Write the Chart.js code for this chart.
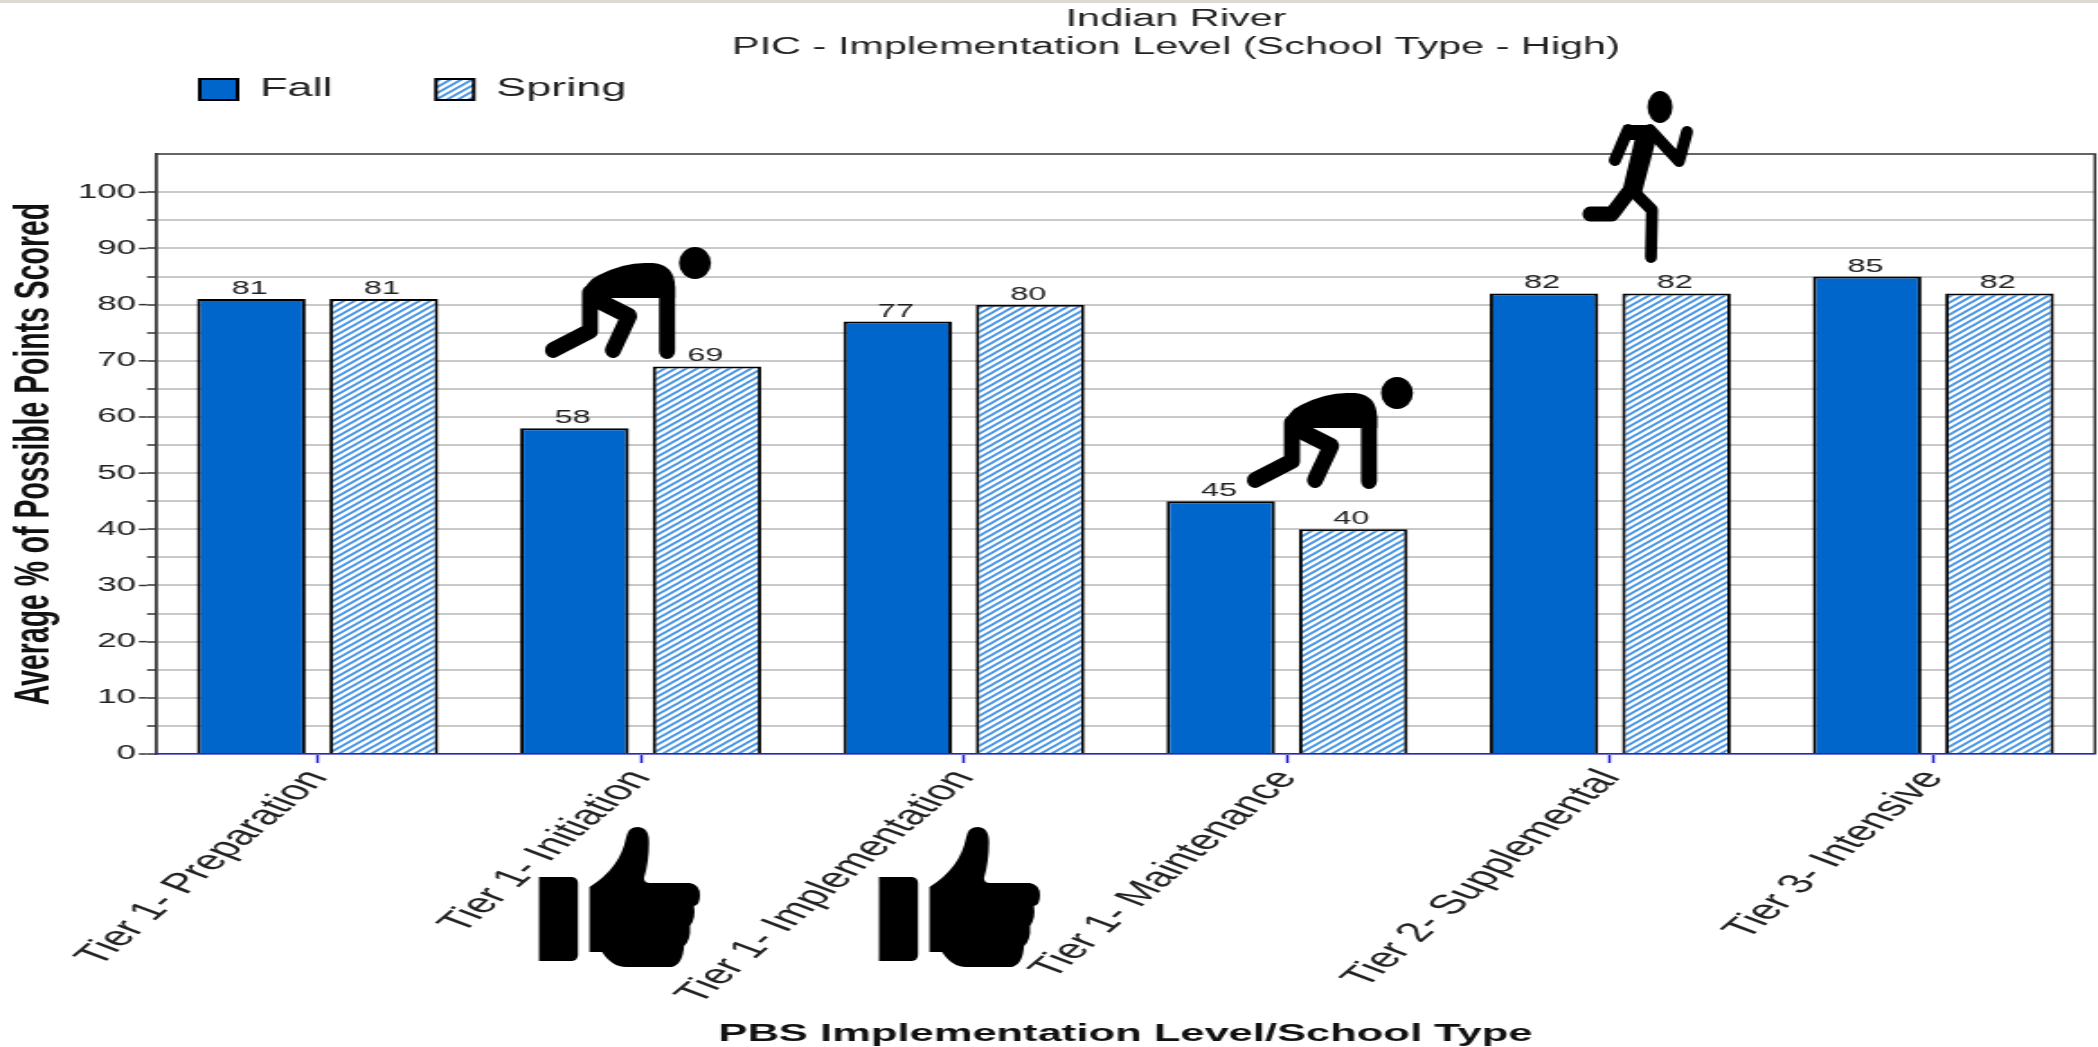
<!DOCTYPE html>
<html>
<head>
<meta charset="utf-8">
<style>
html,body{margin:0;padding:0;background:#fff;overflow:hidden;width:2098px;height:1047px}
#strip{position:absolute;left:0;top:0;width:2098px;height:3px;background:#dcdad2;z-index:2}
#c{position:absolute;left:0;top:0;transform-origin:0 0;transform:scale(1.7993,1)}
</style>
<script src="https://cdn.jsdelivr.net/npm/chart.js@4/dist/chart.umd.min.js"></script>
</head>
<body>
<div id="strip"></div>
<canvas id="c" width="1166" height="1047"></canvas>
<script>
const categories = ["Tier 1- Preparation","Tier 1- Initiation","Tier 1- Implementation","Tier 1- Maintenance","Tier 2- Supplemental","Tier 3- Intensive"];
const fallValues = [81,58,77,45,82,85];
const springValues = [81,69,80,40,82,82];
const titleLines = ["Indian River","PIC - Implementation Level (School Type - High)"];
const xTitle = "PBS Implementation Level/School Type";
const yTitle = "Average % of Possible Points Scored";
const yMax = 106.8;

const SX = 2098/1166;
const FONT = "'Liberation Sans', Arial, sans-serif";
const INK = "#222";

function hatch(){
  const t=document.createElement('canvas');t.width=6;t.height=6;
  const g=t.getContext('2d');
  g.fillStyle='#fff';g.fillRect(0,0,6,6);
  g.strokeStyle='#3d8fe3';g.lineWidth=1.7;g.lineCap='square';
  [[-1,1,1,-1],[-1,7,7,-1],[5,7,7,5]].forEach(s=>{g.beginPath();g.moveTo(s[0],s[1]);g.lineTo(s[2],s[3]);g.stroke();});
  return g.createPattern(t,'repeat');
}

function strokes(ctx,w,list){
  ctx.lineWidth=w;ctx.lineCap='round';ctx.lineJoin='round';
  list.forEach(p=>{ctx.beginPath();ctx.moveTo(p[0],p[1]);for(let i=2;i<p.length;i+=2)ctx.lineTo(p[i],p[i+1]);ctx.stroke();});
}
function crouch(ctx,hx,hy){
  ctx.save();ctx.translate(hx,hy);
  ctx.beginPath();ctx.arc(0,0,16,0,7);ctx.fill();
  ctx.beginPath();ctx.moveTo(-112,34);ctx.quadraticCurveTo(-110,18,-96,12);
  ctx.quadraticCurveTo(-72,0,-50,0);ctx.lineTo(-42,0);ctx.quadraticCurveTo(-20,2,-20,24);
  ctx.lineTo(-20,35);ctx.lineTo(-112,35);ctx.closePath();ctx.fill();
  strokes(ctx,16,[[-105,30,-105,68,-142,87],[-96,38,-66,53,-82,87],[-28,24,-28,88]]);
  ctx.restore();
}
function runner(ctx){
  ctx.beginPath();ctx.ellipse(1660,107,12.5,16,0,0,7);ctx.fill();
  ctx.beginPath();ctx.moveTo(1624,125);ctx.lineTo(1653,125);ctx.lineTo(1655,140);ctx.lineTo(1622,140);ctx.closePath();ctx.fill();
  strokes(ctx,12,[[1628,130,1615,160],[1650,130,1679,161,1687,132]]);
  ctx.beginPath();ctx.moveTo(1636,134);ctx.lineTo(1656,140);ctx.lineTo(1641,196);ctx.lineTo(1622,192);ctx.closePath();ctx.fill();
  strokes(ctx,15,[[1628,193,1612,214,1590,214]]);
  strokes(ctx,12,[[1632,190,1652,210,1651,257]]);
}
function thumb(ctx,dx){
  ctx.save();ctx.translate(dx,0);
  ctx.beginPath();ctx.roundRect(539,877,39,84,[0,6,6,0]);ctx.fill();
  ctx.beginPath();
  ctx.moveTo(589.5,887);
  ctx.quadraticCurveTo(620,868,626,838);
  ctx.quadraticCurveTo(628,827,637,827);
  ctx.quadraticCurveTo(649,827,649,842);
  ctx.quadraticCurveTo(649,862,644,878);
  ctx.quadraticCurveTo(644,883,650,883);
  ctx.lineTo(690,883);
  ctx.quadraticCurveTo(700,885,700,895);
  ctx.quadraticCurveTo(700,905,694,906);
  ctx.quadraticCurveTo(696,918,690,926);
  ctx.quadraticCurveTo(691,940,684,946);
  ctx.quadraticCurveTo(683,964,672,967);
  ctx.lineTo(626,967);
  ctx.quadraticCurveTo(612,967,602,952);
  ctx.lineTo(589.5,952);
  ctx.closePath();ctx.fill();
  ctx.restore();
}

const marks = {
  id:'marks',
  beforeLayout(chart){
    const L=chart.legend;
    if(!L._flat){ const f=L.fit; L.fit=function(){f.call(this);this.height=0;}; L._flat=true; }
  },
  afterLayout(chart){
    const L=chart.legend, T=chart.titleBlock;
    const pad=L.options.labels.padding;
    L.left=111-pad; L.top=77-pad;
    const cx=1176/SX, w=T.right-T.left;
    T.left=cx-w/2; T.right=cx+w/2;
  },
  afterDatasetsDraw(chart){
    const ctx=chart.ctx, a=chart.chartArea, y=chart.scales.y;
    ctx.save();ctx.strokeStyle='#333';ctx.lineWidth=1.5;
    ctx.beginPath();ctx.moveTo(a.left,a.bottom);ctx.lineTo(a.left,a.top);ctx.lineTo(a.right,a.top);ctx.lineTo(a.right,a.bottom);ctx.stroke();
    y.ticks.forEach(t=>{ if(t.value%10===0){const p=y.getPixelForValue(t.value);ctx.beginPath();ctx.moveTo(a.left-9.5,p);ctx.lineTo(a.left-5,p);ctx.stroke();}});
    ctx.restore();
    ctx.save();ctx.font="18px "+FONT;ctx.fillStyle=INK;ctx.textAlign='center';ctx.textBaseline='alphabetic';
    chart.data.datasets.forEach((d,i)=>{chart.getDatasetMeta(i).data.forEach((b,j)=>{ctx.fillText(String(d.data[j]),b.x-1,b.y-5);});});
    ctx.restore();
    ctx.save();ctx.scale(1/SX,1);ctx.fillStyle='#000';ctx.strokeStyle='#000';
    crouch(ctx,695,263);crouch(ctx,1397,393);runner(ctx);thumb(ctx,0);thumb(ctx,340);
    ctx.restore();
  }
};

new Chart(document.getElementById('c'),{
  type:'bar',
  plugins:[marks],
  data:{labels:categories,datasets:[
    {label:'Fall',data:fallValues,backgroundColor:'#0066cc',borderColor:'#000',borderWidth:2},
    {label:'Spring',data:springValues,backgroundColor:hatch(),borderColor:'#000',borderWidth:2}
  ]},
  options:{
    responsive:false,animation:false,devicePixelRatio:1,
    layout:{padding:{left:0,right:1.7,top:0,bottom:0}},
    datasets:{bar:{categoryPercentage:0.82,barPercentage:0.82}},
    plugins:{
      tooltip:{enabled:false},
      title:{display:true,text:titleLines,color:INK,align:'center',font:{family:FONT,size:23,weight:'normal',lineHeight:1.22},padding:{top:6,bottom:92}},
      legend:{position:'top',align:'start',labels:{color:INK,font:{family:FONT,size:25},boxWidth:21,boxHeight:21,padding:57.5}}
    },
    scales:{
      x:{
        afterFit(s){s.height=293;},
        grid:{drawOnChartArea:false,color:'#2222dd',tickColor:'#2222dd',tickWidth:1.5,tickLength:9,offset:false},
        border:{color:'#2222dd',width:1.5,z:1},
        ticks:{color:INK,font:{family:FONT,size:27.5},minRotation:56,maxRotation:56,autoSkip:false,padding:1},
        title:{display:true,text:xTitle,color:'#111',font:{family:FONT,size:24.2,weight:'bold',lineHeight:1.05},padding:{top:0,bottom:0}}
      },
      y:{
        min:0,max:yMax,
        afterFit(s){s.width=86.7;},
        afterBuildTicks(s){s.ticks=s.ticks.filter(t=>t.value%5===0);},
        grid:{color:'#c9c9c9',lineWidth:2,tickColor:'#333',tickWidth:1.5,tickLength:5},
        border:{color:'#333',width:1.5},
        ticks:{stepSize:5,autoSkip:false,color:INK,font:{family:FONT,size:19.5},padding:6,callback:v=>v%10===0?String(v):''},
        title:{display:true,text:yTitle,color:'#111',font:{family:FONT,size:28.4,weight:'bold'},padding:{top:2,bottom:0}}
      }
    }
  }
});
</script>
</body>
</html>
